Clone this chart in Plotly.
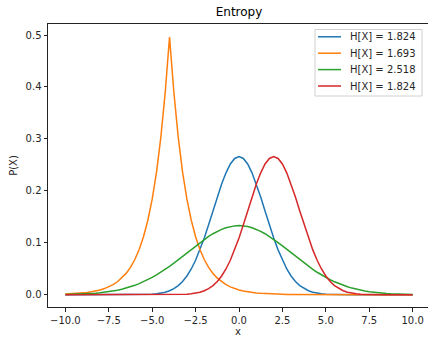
import plotly.graph_objects as go

# Sample positions along x
x_vals = [-10.0, -9.75, -9.5, -9.25, -9.0, -8.75, -8.5, -8.25, -8.0, -7.75,
          -7.5, -7.25, -7.0, -6.75, -6.5, -6.25, -6.0, -5.75, -5.5, -5.25,
          -5.0, -4.75, -4.5, -4.25, -4.0, -3.75, -3.5, -3.25, -3.0, -2.75,
          -2.5, -2.25, -2.0, -1.75, -1.5, -1.25, -1.0, -0.75, -0.5, -0.25,
          0.0, 0.25, 0.5, 0.75, 1.0, 1.25, 1.5, 1.75, 2.0, 2.25,
          2.5, 2.75, 3.0, 3.25, 3.5, 3.75, 4.0, 4.25, 4.5, 4.75,
          5.0, 5.25, 5.5, 5.75, 6.0, 6.25, 6.5, 6.75, 7.0, 7.25,
          7.5, 7.75, 8.0, 8.25, 8.5, 8.75, 9.0, 9.25, 9.5, 9.75, 10.0]

# Series values
blue_vals = [0.0, 0.0, 0.0, 0.0, 0.0, 0.0, 0.0, 0.0, 0.0, 0.0,
             0.0, 0.0, 0.0, 0.0, 0.0, 0.0, 0.0001, 0.0002, 0.0003, 0.0006,
             0.0010, 0.0018, 0.0030, 0.0048, 0.0076, 0.0117, 0.0175, 0.0254, 0.0360, 0.0495,
             0.0663, 0.0863, 0.1093, 0.1347, 0.1613, 0.1879, 0.2130, 0.2347, 0.2516, 0.2623,
             0.2660, 0.2623, 0.2516, 0.2347, 0.2130, 0.1879, 0.1613, 0.1347, 0.1093, 0.0863,
             0.0663, 0.0495, 0.0360, 0.0254, 0.0175, 0.0117, 0.0076, 0.0048, 0.0030, 0.0018,
             0.0010, 0.0006, 0.0003, 0.0002, 0.0001, 0.0, 0.0, 0.0, 0.0, 0.0,
             0.0, 0.0, 0.0, 0.0, 0.0, 0.0, 0.0, 0.0, 0.0, 0.0, 0.0]

orange_vals = [0.0012, 0.0016, 0.0020, 0.0026, 0.0034, 0.0043, 0.0056, 0.0071, 0.0092, 0.0118,
               0.0151, 0.0194, 0.0249, 0.0320, 0.0410, 0.0527, 0.0677, 0.0869, 0.1116, 0.1433,
               0.1839, 0.2362, 0.3033, 0.3894, 0.496, 0.3894, 0.3033, 0.2362, 0.1839, 0.1433,
               0.1116, 0.0869, 0.0677, 0.0527, 0.0410, 0.0320, 0.0249, 0.0194, 0.0151, 0.0118,
               0.0092, 0.0071, 0.0056, 0.0043, 0.0034, 0.0026, 0.0020, 0.0016, 0.0012, 0.0010,
               0.0008, 0.0006, 0.0005, 0.0004, 0.0003, 0.0002, 0.0002, 0.0001, 0.0001, 0.0001,
               0.0001, 0.0, 0.0, 0.0, 0.0, 0.0, 0.0, 0.0, 0.0, 0.0,
               0.0, 0.0, 0.0, 0.0, 0.0, 0.0, 0.0, 0.0, 0.0, 0.0, 0.0]

green_vals = [0.0005, 0.0007, 0.0009, 0.0011, 0.0015, 0.0019, 0.0024, 0.0030, 0.0038, 0.0047,
              0.0058, 0.0072, 0.0087, 0.0106, 0.0127, 0.0152, 0.0180, 0.0212, 0.0248, 0.0288,
              0.0332, 0.0380, 0.0432, 0.0488, 0.0547, 0.0609, 0.0673, 0.0740, 0.0807, 0.0874,
              0.0940, 0.1004, 0.1065, 0.1122, 0.1174, 0.1219, 0.1258, 0.1289, 0.1311, 0.1325,
              0.1330, 0.1325, 0.1311, 0.1289, 0.1258, 0.1219, 0.1174, 0.1122, 0.1065, 0.1004,
              0.0940, 0.0874, 0.0807, 0.0740, 0.0673, 0.0609, 0.0547, 0.0488, 0.0432, 0.0380,
              0.0332, 0.0288, 0.0248, 0.0212, 0.0180, 0.0152, 0.0127, 0.0106, 0.0087, 0.0072,
              0.0058, 0.0047, 0.0038, 0.0030, 0.0024, 0.0019, 0.0015, 0.0011, 0.0009, 0.0007, 0.0005]

red_vals = [0.0, 0.0, 0.0, 0.0, 0.0, 0.0, 0.0, 0.0, 0.0, 0.0,
            0.0, 0.0, 0.0, 0.0, 0.0, 0.0, 0.0, 0.0, 0.0, 0.0,
            0.0, 0.0, 0.0, 0.0, 0.0001, 0.0002, 0.0003, 0.0006, 0.0010, 0.0018,
            0.0030, 0.0048, 0.0076, 0.0117, 0.0175, 0.0254, 0.0360, 0.0495, 0.0663, 0.0863,
            0.1093, 0.1347, 0.1613, 0.1879, 0.2130, 0.2347, 0.2516, 0.2623, 0.2660, 0.2623,
            0.2516, 0.2347, 0.2130, 0.1879, 0.1613, 0.1347, 0.1093, 0.0863, 0.0663, 0.0495,
            0.0360, 0.0254, 0.0175, 0.0117, 0.0076, 0.0048, 0.0030, 0.0018, 0.0010, 0.0006,
            0.0003, 0.0002, 0.0001, 0.0, 0.0, 0.0, 0.0, 0.0, 0.0, 0.0, 0.0]

series_names = ["H[X] = 1.824", "H[X] = 1.693", "H[X] = 2.518", "H[X] = 1.824"]
series_colors = ["#1f77b4", "#ff7f0e", "#2ca02c", "#d62728"]

x_tickvals = [-10, -7.5, -5, -2.5, 0, 2.5, 5, 7.5, 10]
x_ticktext = ["\u221210.0", "\u22127.5", "\u22125.0", "\u22122.5", "0.0", "2.5", "5.0", "7.5", "10.0"]
y_tickvals = [0.0, 0.1, 0.2, 0.3, 0.4, 0.5]
y_ticktext = ["0.0", "0.1", "0.2", "0.3", "0.4", "0.5"]

W, H = 428, 337
ML, MR, MT, MB = 48, 0, 24, 30
PW, PH = W - ML - MR, H - MT - MB


def px_x(px):
    return (px - ML) / PW


def px_y(py):
    return (H - MB - py) / PH


fig = go.Figure()
for name, vals, color in zip(series_names,
                             [blue_vals, orange_vals, green_vals, red_vals],
                             series_colors):
    fig.add_trace(go.Scatter(x=x_vals, y=vals, mode="lines", name=name,
                             line=dict(color=color, width=1.5),
                             showlegend=False))

# Matplotlib-style legend box (drawn in paper coordinates)
shapes = [dict(type="rect", xref="paper", yref="paper",
               x0=px_x(315), x1=px_x(422), y0=px_y(96), y1=px_y(29.5),
               line=dict(color="#d0d0d0", width=1),
               fillcolor="rgba(255,255,255,0.8)", layer="above")]
annotations = []
for i, (name, color) in enumerate(zip(series_names, series_colors)):
    cy = px_y(36.8 + 16.4 * i)
    shapes.append(dict(type="line", xref="paper", yref="paper",
                       x0=px_x(318), x1=px_x(341), y0=cy, y1=cy,
                       line=dict(color=color, width=1.5), layer="above"))
    annotations.append(dict(text=name, xref="paper", yref="paper",
                            x=px_x(348), y=cy, xanchor="left", yanchor="middle",
                            showarrow=False,
                            font=dict(size=10, color="#262626")))

axis_common = dict(showgrid=False, zeroline=False, showline=True,
                   linecolor="#222222", linewidth=1, ticks="outside",
                   ticklen=3.5, tickwidth=1, tickcolor="#222222",
                   tickfont=dict(size=10, color="#262626"), automargin=False)

fig.update_layout(
    width=W, height=H,
    margin=dict(l=ML, r=MR, t=MT, b=MB, autoexpand=False),
    plot_bgcolor="white", paper_bgcolor="white",
    font=dict(family="DejaVu Sans", size=10, color="#262626"),
    title=dict(text="Entropy", font=dict(size=12, color="black"),
               x=px_x(239), xref="paper", xanchor="center",
               y=1 - 12 / H, yref="container", yanchor="middle",
               automargin=False),
    xaxis=dict(range=[-11, 10.885], tickvals=x_tickvals, ticktext=x_ticktext,
               mirror=True,
               title=dict(text="x", standoff=2, font=dict(size=10)),
               **axis_common),
    yaxis=dict(range=[-0.0237, 0.5212], tickvals=y_tickvals, ticktext=y_ticktext,
               title=dict(text="P(X)", standoff=6, font=dict(size=10)),
               **axis_common),
    shapes=shapes,
    annotations=annotations,
    showlegend=False,
)

fig.write_html("out.html",
               config={"displayModeBar": False},
               post_script="document.body.style.margin='0';"
                           "document.body.style.overflow='hidden';")
